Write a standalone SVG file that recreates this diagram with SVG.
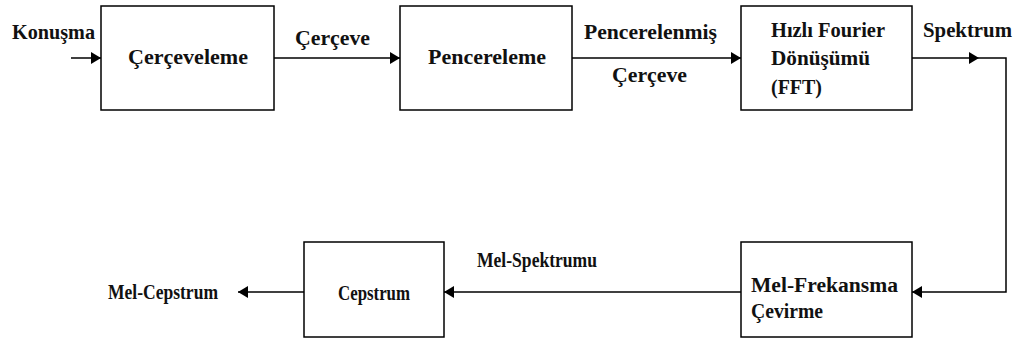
<svg xmlns="http://www.w3.org/2000/svg" width="1019" height="349" viewBox="0 0 1019 349">
<style>
.box{fill:#fff;stroke:#000;stroke-width:1.5}
.ln{fill:none;stroke:#000;stroke-width:1.5}
.t{font-family:'Liberation Serif','DejaVu Serif',serif;font-weight:bold;font-size:20px;fill:#111}
</style>
<defs>
<marker id="ah" markerUnits="userSpaceOnUse" markerWidth="11" markerHeight="14" refX="10" refY="6" orient="auto">
<path d="M0,0 L10,6 L0,12 z" fill="#000"/>
</marker>
</defs>
<rect width="1019" height="349" fill="#fff"/>
<g id="connectors">
<path class="ln" d="M71,58 H101" marker-end="url(#ah)"/>
<path class="ln" d="M274,58 H400" marker-end="url(#ah)"/>
<path class="ln" d="M572,58 H741" marker-end="url(#ah)"/>
<path class="ln" d="M912,58 H979" marker-end="url(#ah)"/>
<path class="ln" d="M979,58 H1006 V292 H912" marker-end="url(#ah)"/>
<path class="ln" d="M741,292 H444" marker-end="url(#ah)"/>
<path class="ln" d="M304,292 H238" marker-end="url(#ah)"/>
<text class="t" x="12" y="39" textLength="83" lengthAdjust="spacingAndGlyphs">Konuşma</text>
<text class="t" x="295" y="45" textLength="75" lengthAdjust="spacingAndGlyphs">Çerçeve</text>
<text class="t" x="584" y="39" textLength="133" lengthAdjust="spacingAndGlyphs">Pencerelenmiş</text>
<text class="t" x="612" y="82" textLength="75" lengthAdjust="spacingAndGlyphs">Çerçeve</text>
<text class="t" x="923" y="37" textLength="89" lengthAdjust="spacingAndGlyphs">Spektrum</text>
<text class="t" x="477" y="267" textLength="120" lengthAdjust="spacingAndGlyphs">Mel-Spektrumu</text>
<text class="t" x="108" y="299" textLength="110" lengthAdjust="spacingAndGlyphs">Mel-Cepstrum</text>
</g>
<g id="n1">
<rect class="box" x="101" y="6" width="173" height="104"/>
<text class="t" x="128" y="64" textLength="120" lengthAdjust="spacingAndGlyphs">Çerçeveleme</text>
</g>
<g id="n2">
<rect class="box" x="400" y="6" width="172" height="104"/>
<text class="t" x="428" y="64" textLength="118" lengthAdjust="spacingAndGlyphs">Pencereleme</text>
</g>
<g id="n3">
<rect class="box" x="741" y="6" width="171" height="104"/>
<text class="t" x="771" y="37" textLength="114" lengthAdjust="spacingAndGlyphs">Hızlı Fourier</text>
<text class="t" x="771" y="65" textLength="99" lengthAdjust="spacingAndGlyphs">Dönüşümü</text>
<text class="t" x="771" y="94" textLength="51" lengthAdjust="spacingAndGlyphs">(FFT)</text>
</g>
<g id="n4">
<rect class="box" x="741" y="242" width="171" height="95"/>
<text class="t" x="751" y="292" textLength="147" lengthAdjust="spacingAndGlyphs">Mel-Frekansma</text>
<text class="t" x="751" y="318" textLength="72" lengthAdjust="spacingAndGlyphs">Çevirme</text>
</g>
<g id="n5">
<rect class="box" x="304" y="242" width="140" height="95"/>
<text class="t" x="338" y="300" textLength="72" lengthAdjust="spacingAndGlyphs">Cepstrum</text>
</g>
</svg>
